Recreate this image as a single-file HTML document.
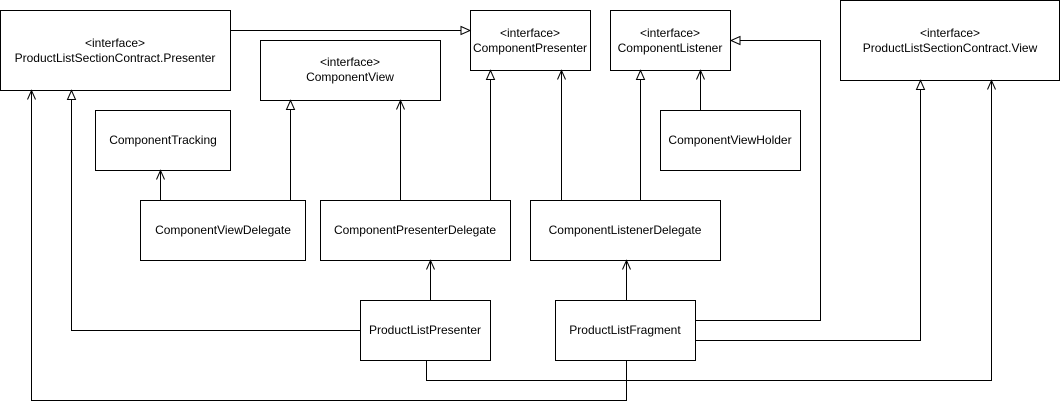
<!DOCTYPE html>
<html><head><meta charset="utf-8"><style>
html,body{margin:0;padding:0;background:#fff;}
svg{display:block;}
text{font-family:"Liberation Sans",Arial,sans-serif;font-size:12px;fill:#000;text-anchor:middle;}
</style></head><body>
<svg width="1061" height="410" viewBox="0 0 1061 410" xmlns="http://www.w3.org/2000/svg">
<defs>
<marker id="tri" markerWidth="12" markerHeight="12" refX="10" refY="5" orient="auto" markerUnits="userSpaceOnUse" viewBox="0 0 12 10">
<path d="M1,1 L10,5 L1,9 Z" fill="#fff" stroke="#000" stroke-width="1"/>
</marker>
<marker id="open" markerWidth="12" markerHeight="12" refX="10" refY="5" orient="auto" markerUnits="userSpaceOnUse" viewBox="0 0 12 10">
<path d="M1,1 L10,5 L1,9" fill="none" stroke="#000" stroke-width="1"/>
</marker>
</defs>
<g fill="#fff" stroke="#000" stroke-width="1">
<rect x="0.5" y="10.5" width="230" height="80"/>
<rect x="260.5" y="40.5" width="180" height="60"/>
<rect x="470.5" y="10.5" width="120" height="60"/>
<rect x="610.5" y="10.5" width="120" height="60"/>
<rect x="840.5" y="0.5" width="219" height="80"/>
<rect x="95.5" y="110.5" width="135" height="60"/>
<rect x="660.5" y="110.5" width="140" height="60"/>
<rect x="140.5" y="200.5" width="165" height="60"/>
<rect x="320.5" y="200.5" width="190" height="60"/>
<rect x="530.5" y="200.5" width="190" height="60"/>
<rect x="360.5" y="300.5" width="130" height="60"/>
<rect x="555.5" y="300.5" width="140" height="60"/>
</g>
<g fill="none" stroke="#000" stroke-width="1">
<path d="M230.5,30.5 H470" marker-end="url(#tri)"/>
<path d="M160.5,200 V170.5" marker-end="url(#open)"/>
<path d="M290.5,200 V100.5" marker-end="url(#tri)"/>
<path d="M400.5,200 V100.5" marker-end="url(#open)"/>
<path d="M490.5,200 V70.5" marker-end="url(#tri)"/>
<path d="M561.5,200 V70.5" marker-end="url(#open)"/>
<path d="M640.5,200 V70.5" marker-end="url(#tri)"/>
<path d="M700.5,110 V70.5" marker-end="url(#open)"/>
<path d="M430.5,300 V260.5" marker-end="url(#open)"/>
<path d="M626.5,300 V260.5" marker-end="url(#open)"/>
<path d="M360,330.5 H71.5 V90.5" marker-end="url(#tri)"/>
<path d="M695.5,320.5 H820.5 V40.5 H731" marker-end="url(#tri)"/>
<path d="M695.5,340.5 H920.5 V80.5" marker-end="url(#tri)"/>
<path d="M426.5,360.5 V380.5 H991.5 V80.5" marker-end="url(#open)"/>
<path d="M626.5,360.5 V400.5 H31.5 V90.5" marker-end="url(#open)"/>
</g>
<text x="115" y="47">&lt;interface&gt;</text>
<text x="115" y="62">ProductListSectionContract.Presenter</text>
<text x="350" y="66">&lt;interface&gt;</text>
<text x="350" y="81">ComponentView</text>
<text x="530" y="37">&lt;interface&gt;</text>
<text x="530" y="52">ComponentPresenter</text>
<text x="670" y="37">&lt;interface&gt;</text>
<text x="670" y="52">ComponentListener</text>
<text x="950" y="37">&lt;interface&gt;</text>
<text x="950" y="52">ProductListSectionContract.View</text>
<text x="163" y="144">ComponentTracking</text>
<text x="730" y="144">ComponentViewHolder</text>
<text x="223" y="234">ComponentViewDelegate</text>
<text x="415" y="234">ComponentPresenterDelegate</text>
<text x="625" y="234">ComponentListenerDelegate</text>
<text x="425" y="334">ProductListPresenter</text>
<text x="625" y="334">ProductListFragment</text>
</svg>
</body></html>
